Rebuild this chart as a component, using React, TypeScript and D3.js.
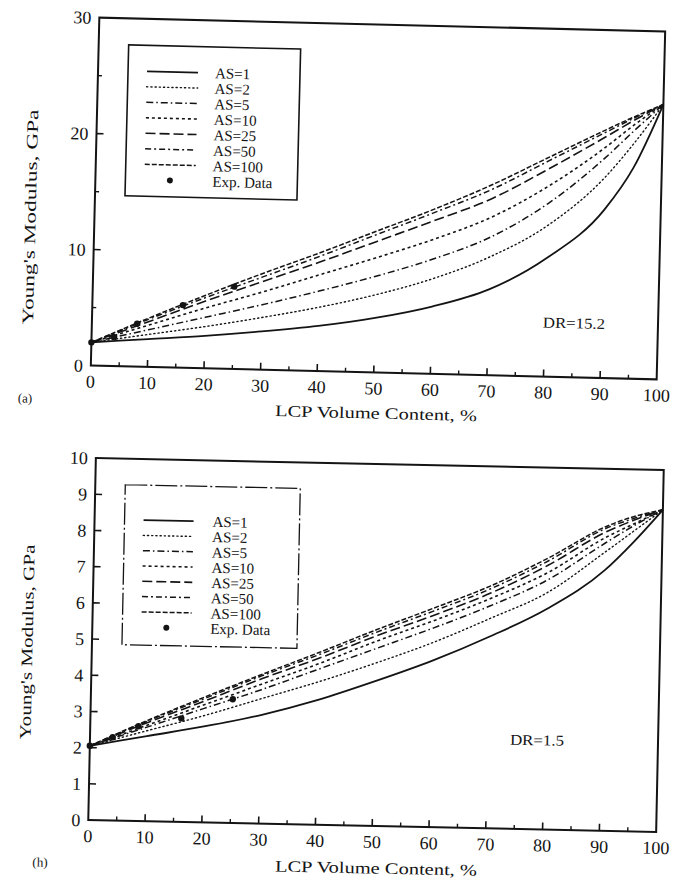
import React from "react";
import * as d3 from "d3";

// ---------- data ----------
const LCP = [0, 10, 20, 30, 40, 50, 60, 70, 80, 90, 95, 100];
const SERIES_NAMES = ["AS=1", "AS=2", "AS=5", "AS=10", "AS=25", "AS=50", "AS=100"];
const EXP_LABEL = "Exp. Data";

// (a) DR=15.2
const A_AS1 = [2.0, 2.4, 2.8, 3.3, 3.9, 4.7, 5.8, 7.4, 10.2, 14.5, 18.2, 23.7];
const A_AS2 = [2.0, 2.8, 3.6, 4.5, 5.5, 6.7, 8.2, 10.2, 13.0, 17.3, 20.3, 23.7];
const A_AS5 = [2.0, 3.2, 4.4, 5.6, 6.9, 8.3, 9.9, 11.9, 14.9, 19.0, 21.4, 23.7];
const A_AS10 = [2.0, 3.6, 5.2, 6.7, 8.3, 9.9, 11.6, 13.6, 16.4, 19.9, 21.9, 23.7];
const A_AS25 = [2.0, 3.9, 5.8, 7.6, 9.4, 11.3, 13.2, 15.2, 17.9, 20.8, 22.3, 23.7];
const A_AS50 = [2.0, 4.1, 6.1, 8.0, 9.9, 11.9, 13.9, 16.0, 18.6, 21.2, 22.5, 23.7];
const A_AS100 = [2.0, 4.2, 6.3, 8.3, 10.2, 12.2, 14.2, 16.4, 18.9, 21.4, 22.6, 23.7];
const A_EXP_X = [0, 4, 8, 16, 25];
const A_EXP_Y = [2.0, 2.5, 3.7, 5.4, 7.1];
const A_Y_TICKS = [0, 10, 20, 30];
const A_Y_MINOR = [5, 15, 25];

// (b) DR=1.5
const B_AS1 = [2.05, 2.35, 2.65, 3.0, 3.45, 4.0, 4.6, 5.3, 6.1, 7.2, 8.0, 8.9];
const B_AS2 = [2.05, 2.5, 2.95, 3.45, 3.95, 4.5, 5.1, 5.8, 6.55, 7.7, 8.3, 8.9];
const B_AS5 = [2.05, 2.6, 3.15, 3.7, 4.3, 4.9, 5.5, 6.15, 6.9, 7.95, 8.45, 8.9];
const B_AS10 = [2.05, 2.65, 3.25, 3.85, 4.45, 5.1, 5.7, 6.35, 7.1, 8.1, 8.5, 8.9];
const B_AS25 = [2.05, 2.72, 3.35, 4.0, 4.6, 5.25, 5.85, 6.5, 7.3, 8.25, 8.6, 8.9];
const B_AS50 = [2.05, 2.76, 3.42, 4.08, 4.7, 5.35, 5.97, 6.62, 7.42, 8.35, 8.65, 8.9];
const B_AS100 = [2.05, 2.78, 3.46, 4.12, 4.76, 5.42, 6.05, 6.7, 7.5, 8.4, 8.7, 8.9];
const B_EXP_X = [0, 4, 8.5, 16, 25];
const B_EXP_Y = [2.05, 2.3, 2.62, 2.86, 3.42];
const B_Y_TICKS = [0, 1, 2, 3, 4, 5, 6, 7, 8, 9, 10];
const B_Y_MINOR: number[] = [];

const X_TICKS = [0, 10, 20, 30, 40, 50, 60, 70, 80, 90, 100];
const X_MINOR = [5, 15, 25, 35, 45, 55, 65, 75, 85, 95];

// ---------- styles ----------
const INK = "#141414";
const FONT = "'Liberation Serif', 'DejaVu Serif', serif";
const DASHES = ["", "1.2 3", "7 3 1.5 3", "3 3", "10 4", "6 3 2 3", "5 2"];
const WIDTHS = [1.8, 1.4, 1.5, 1.6, 1.6, 1.5, 1.5];

type Rot = { deg: number; cx: number; cy: number };
function unrot(px: number, py: number, r: Rot) {
  const t = (-r.deg * Math.PI) / 180;
  const dx = px - r.cx;
  const dy = py - r.cy;
  return {
    x: r.cx + dx * Math.cos(t) - dy * Math.sin(t),
    y: r.cy + dx * Math.sin(t) + dy * Math.cos(t),
  };
}

type PanelProps = {
  frame: { x0: number; x1: number; y0: number; y1: number };
  rot: Rot;
  yMax: number;
  yTicks: number[];
  yMinor: number[];
  series: number[][];
  expX: number[];
  expY: number[];
  legend: { x0: number; y0: number; x1: number; y1: number; row0: number; step: number; lx0: number; lx1: number; tx: number; dashed: boolean };
  dr: { text: string; px: number; py: number; w: number };
  letter: { text: string; px: number; py: number };
  xTitle: { px: number; py: number; w: number };
  yTitle: { px: number; py: number; w: number };
  tickFont: number;
};

function Panel(p: PanelProps) {
  const { frame, rot } = p;
  const x = d3.scaleLinear().domain([0, 100]).range([frame.x0, frame.x1]);
  const y = d3.scaleLinear().domain([0, p.yMax]).range([frame.y1, frame.y0]);
  const line = d3
    .line<[number, number]>()
    .x((d) => x(d[0]))
    .y((d) => y(d[1]))
    .curve(d3.curveMonotoneX);

  const dr = unrot(p.dr.px, p.dr.py, rot);
  const letter = unrot(p.letter.px, p.letter.py, rot);
  const xt = unrot(p.xTitle.px, p.xTitle.py, rot);
  const yt = unrot(p.yTitle.px, p.yTitle.py, rot);
  const L = p.legend;

  return (
    <g transform={`rotate(${rot.deg} ${rot.cx} ${rot.cy})`} fontFamily={FONT} fill={INK}>
      {/* frame */}
      <rect x={frame.x0} y={frame.y0} width={frame.x1 - frame.x0} height={frame.y1 - frame.y0} fill="none" stroke={INK} strokeWidth={2} />
      {/* y ticks */}
      {p.yTicks.map((t) => (
        <g key={"yt" + t}>
          {t > 0 && t < p.yMax && <line x1={frame.x0} x2={frame.x0 + 7} y1={y(t)} y2={y(t)} stroke={INK} strokeWidth={1.6} />}
          <text x={frame.x0 - 8} y={y(t)} dy="0.35em" textAnchor="end" fontSize={p.tickFont} stroke="none">
            {t}
          </text>
        </g>
      ))}
      {p.yMinor.map((t) => (
        <line key={"ym" + t} x1={frame.x0} x2={frame.x0 + 4} y1={y(t)} y2={y(t)} stroke={INK} strokeWidth={1.4} />
      ))}
      {/* x ticks */}
      {X_TICKS.map((t) => (
        <g key={"xt" + t}>
          {t > 0 && t < 100 && <line x1={x(t)} x2={x(t)} y1={frame.y1} y2={frame.y1 - 7} stroke={INK} strokeWidth={1.6} />}
          <text x={x(t)} y={frame.y1 + 22} textAnchor="middle" fontSize={p.tickFont} stroke="none">
            {t}
          </text>
        </g>
      ))}
      {X_MINOR.map((t) => (
        <line key={"xm" + t} x1={x(t)} x2={x(t)} y1={frame.y1} y2={frame.y1 - 4} stroke={INK} strokeWidth={1.4} />
      ))}
      {/* curves */}
      {p.series.map((s, i) => (
        <path
          key={"s" + i}
          d={line(LCP.map((v, j) => [v, s[j]] as [number, number])) || ""}
          fill="none"
          stroke={INK}
          strokeWidth={WIDTHS[i]}
          strokeDasharray={DASHES[i] || undefined}
          strokeLinecap={i === 1 ? "round" : "butt"}
        />
      ))}
      {/* experimental data */}
      {p.expX.map((v, i) => (
        <circle key={"e" + i} cx={x(v)} cy={y(p.expY[i])} r={3.2} fill={INK} />
      ))}
      {/* legend */}
      <rect
        x={L.x0}
        y={L.y0}
        width={L.x1 - L.x0}
        height={L.y1 - L.y0}
        fill="white"
        stroke={INK}
        strokeWidth={L.dashed ? 1.3 : 1.6}
        strokeDasharray={L.dashed ? "22 3 2 3" : undefined}
      />
      {SERIES_NAMES.map((name, i) => (
        <g key={"l" + i}>
          <line
            x1={L.lx0}
            x2={L.lx1}
            y1={L.row0 + i * L.step}
            y2={L.row0 + i * L.step}
            stroke={INK}
            strokeWidth={WIDTHS[i]}
            strokeDasharray={DASHES[i] || undefined}
            strokeLinecap={i === 1 ? "round" : "butt"}
          />
          <text x={L.tx} y={L.row0 + i * L.step} dy="0.35em" fontSize={15} stroke="none">
            {name}
          </text>
        </g>
      ))}
      <circle cx={(L.lx0 + L.lx1) / 2} cy={L.row0 + 7 * L.step} r={3} fill={INK} />
      <text x={L.tx} y={L.row0 + 7 * L.step} dy="0.35em" fontSize={15} stroke="none">
        {EXP_LABEL}
      </text>
      {/* annotations */}
      <text x={dr.x} y={dr.y} dy="0.35em" textAnchor="middle" fontSize={15} textLength={p.dr.w} lengthAdjust="spacingAndGlyphs">
        {p.dr.text}
      </text>
      <text x={letter.x} y={letter.y} dy="0.35em" textAnchor="middle" fontSize={13}>
        {p.letter.text}
      </text>
      <text x={xt.x} y={xt.y} dy="0.35em" textAnchor="middle" fontSize={16} textLength={p.xTitle.w} lengthAdjust="spacingAndGlyphs">
        LCP Volume Content,  %
      </text>
      <text
        transform={`translate(${yt.x},${yt.y}) rotate(-90)`}
        dy="0.35em"
        textAnchor="middle"
        fontSize={16}
        textLength={p.yTitle.w}
        lengthAdjust="spacingAndGlyphs"
      >
        Young's Modulus,  GPa
      </text>
    </g>
  );
}

export default function App() {
  return (
    <svg width={674} height={885} style={{ position: "absolute", left: 0, top: 0, background: "#fff" }}>
      <rect x={0} y={0} width={674} height={885} fill="#fff" />
      <Panel
        frame={{ x0: 95, x1: 661, y0: 24.5, y1: 372.5 }}
        rot={{ deg: 1.4, cx: 378, cy: 198.5 }}
        yMax={30}
        yTicks={A_Y_TICKS}
        yMinor={A_Y_MINOR}
        series={[A_AS1, A_AS2, A_AS5, A_AS10, A_AS25, A_AS50, A_AS100]}
        expX={A_EXP_X}
        expY={A_EXP_Y}
        legend={{ x0: 125, y0: 51, x1: 297, y1: 202, row0: 77, step: 15.5, lx0: 144, lx1: 195, tx: 212, dashed: false }}
        dr={{ text: "DR=15.2", px: 574, py: 323, w: 62 }}
        letter={{ text: "(a)", px: 25, py: 398 }}
        xTitle={{ px: 376, py: 413, w: 202 }}
        yTitle={{ px: 30, py: 217, w: 215 }}
        tickFont={18}
      />
      <Panel
        frame={{ x0: 92, x1: 660, y0: 464, y1: 826 }}
        rot={{ deg: 1.2, cx: 376, cy: 645 }}
        yMax={10}
        yTicks={B_Y_TICKS}
        yMinor={B_Y_MINOR}
        series={[B_AS1, B_AS2, B_AS5, B_AS10, B_AS25, B_AS50, B_AS100]}
        expX={B_EXP_X}
        expY={B_EXP_Y}
        legend={{ x0: 122, y0: 490, x1: 297, y1: 650, row0: 525, step: 15.3, lx0: 141, lx1: 191, tx: 210, dashed: true }}
        dr={{ text: "DR=1.5", px: 537, py: 740, w: 54 }}
        letter={{ text: "(h)", px: 40, py: 862 }}
        xTitle={{ px: 376, py: 868, w: 202 }}
        yTitle={{ px: 27, py: 642, w: 195 }}
        tickFont={18}
      />
    </svg>
  );
}
